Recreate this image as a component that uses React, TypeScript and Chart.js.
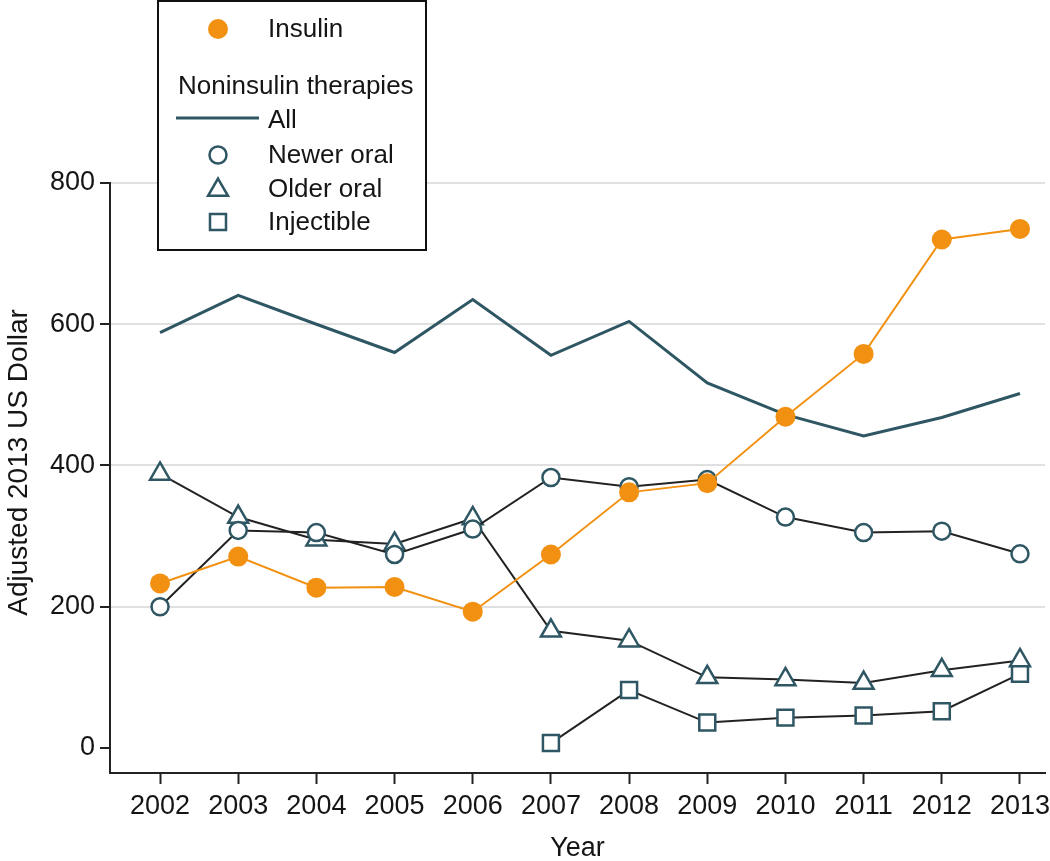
import React, { useEffect, useRef } from 'react';
import { Chart, registerables } from 'chart.js';

Chart.register(...registerables);

// ---- Data ----
const years = [2002, 2003, 2004, 2005, 2006, 2007, 2008, 2009, 2010, 2011, 2012, 2013];
const insulin = [233, 271, 227, 228, 193, 274, 362, 375, 469, 558, 720, 735];
const allNoninsulin = [588, 641, 600, 560, 635, 556, 604, 517, 472, 442, 468, 502];
const newerOral = [200, 308, 305, 274, 310, 383, 370, 380, 327, 305, 307, 275];
const olderOral = [388, 327, 295, 289, 325, 166, 152, 100, 97, 92, 110, 124];
const injectible: (number | null)[] = [null, null, null, null, null, 7, 82, 36, 43, 46, 52, 105];
const yTicks = [0, 200, 400, 600, 800];

const ORANGE = '#f29111';
const TEAL = '#2e5663';
const LINE_DARK = '#222222';
const TEXT = '#151515';
const FONT = 'Liberation Sans, Arial, sans-serif';

const toPoints = (vals: (number | null)[]) =>
  years
    .map((x, i) => ({ x, y: vals[i] }))
    .filter((p) => p.y !== null && p.y !== undefined);

function drawTriangle(ctx: CanvasRenderingContext2D, x: number, y: number, r: number) {
  const third = (2 * Math.PI) / 3;
  let rad = 0;
  ctx.beginPath();
  ctx.moveTo(x + Math.sin(rad) * r, y - Math.cos(rad) * r);
  rad += third;
  ctx.lineTo(x + Math.sin(rad) * r, y - Math.cos(rad) * r);
  rad += third;
  ctx.lineTo(x + Math.sin(rad) * r, y - Math.cos(rad) * r);
  ctx.closePath();
}

const legendPlugin = {
  id: 'customLegendBox',
  afterDraw(chart: any) {
    const ctx: CanvasRenderingContext2D = chart.ctx;
    ctx.save();
    // box
    ctx.fillStyle = '#ffffff';
    ctx.fillRect(158, 1, 268, 249);
    ctx.strokeStyle = '#111111';
    ctx.lineWidth = 2;
    ctx.strokeRect(158, 1, 268, 249);

    ctx.font = `26px ${FONT}`;
    ctx.fillStyle = TEXT;
    ctx.textBaseline = 'middle';
    ctx.textAlign = 'left';
    const mx = 218;
    const tx = 268;

    // Insulin
    ctx.beginPath();
    ctx.arc(mx, 29, 10, 0, Math.PI * 2);
    ctx.fillStyle = ORANGE;
    ctx.fill();
    ctx.fillStyle = TEXT;
    ctx.fillText('Insulin', tx, 30);

    // heading
    ctx.fillText('Noninsulin therapies', 178, 87);

    // All
    ctx.strokeStyle = TEAL;
    ctx.lineWidth = 3;
    ctx.beginPath();
    ctx.moveTo(176, 118);
    ctx.lineTo(259, 118);
    ctx.stroke();
    ctx.fillText('All', tx, 121);

    ctx.lineWidth = 2.5;
    ctx.strokeStyle = TEAL;
    ctx.fillStyle = '#ffffff';
    // Newer oral
    ctx.beginPath();
    ctx.arc(mx, 155, 8.5, 0, Math.PI * 2);
    ctx.fill();
    ctx.stroke();
    // Older oral
    drawTriangle(ctx, mx, 190, 11.5);
    ctx.fill();
    ctx.stroke();
    // Injectible
    const s = 8;
    ctx.beginPath();
    ctx.rect(mx - s, 222 - s, 2 * s, 2 * s);
    ctx.fill();
    ctx.stroke();

    ctx.fillStyle = TEXT;
    ctx.fillText('Newer oral', tx, 156);
    ctx.fillText('Older oral', tx, 190);
    ctx.fillText('Injectible', tx, 223);
    ctx.restore();
  },
};

export default function App() {
  const canvasRef = useRef<HTMLCanvasElement | null>(null);

  useEffect(() => {
    if (!canvasRef.current) return;
    const markerCommon = {
      borderColor: LINE_DARK,
      borderWidth: 2,
      pointBorderColor: TEAL,
      pointBackgroundColor: '#ffffff',
      pointBorderWidth: 2.5,
      tension: 0,
    };
    const zeroPadding = () => ({ left: 0, top: 0, right: 0, bottom: 0 });
    const chart = new Chart(canvasRef.current, {
      type: 'line',
      data: {
        datasets: [
          {
            label: 'Insulin',
            data: toPoints(insulin),
            borderColor: ORANGE,
            borderWidth: 2,
            pointRadius: 10,
            pointHoverRadius: 10,
            pointBackgroundColor: ORANGE,
            pointBorderColor: ORANGE,
            pointBorderWidth: 0,
            tension: 0,
          },
          {
            label: 'All',
            data: toPoints(allNoninsulin),
            borderColor: TEAL,
            borderWidth: 3,
            pointRadius: 0,
            pointHoverRadius: 0,
            tension: 0,
          },
          {
            label: 'Newer oral',
            data: toPoints(newerOral),
            ...markerCommon,
            pointStyle: 'circle',
            pointRadius: 8.5,
            pointHoverRadius: 8.5,
          },
          {
            label: 'Older oral',
            data: toPoints(olderOral),
            ...markerCommon,
            pointStyle: 'triangle',
            pointRadius: 11.5,
            pointHoverRadius: 11.5,
          },
          {
            label: 'Injectible',
            data: toPoints(injectible),
            ...markerCommon,
            pointStyle: 'rect',
            pointRadius: 11.3,
            pointHoverRadius: 11.3,
          },
        ] as any,
      },
      options: {
        animation: false,
        responsive: false,
        maintainAspectRatio: false,
        events: [],
        layout: { autoPadding: false, padding: { top: 183, right: 5, left: 0, bottom: 0 } },
        plugins: {
          legend: { display: false },
          tooltip: { enabled: false },
        },
        scales: {
          x: {
            type: 'linear',
            min: 2001.36,
            max: 2013.32,
            afterBuildTicks: (scale: any) => {
              scale.ticks = years.map((v) => ({ value: v }));
            },
            afterFit: (scale: any) => {
              scale.height = 88;
              scale.paddingLeft = 0;
              scale.paddingRight = 0;
              scale.getPadding = zeroPadding;
            },
            ticks: {
              autoSkip: false,
              maxRotation: 0,
              padding: 6,
              color: TEXT,
              font: { family: FONT, size: 27 },
              callback: (v: any) => String(v),
            },
            grid: {
              display: true,
              drawOnChartArea: false,
              drawTicks: true,
              tickLength: 11,
              tickColor: LINE_DARK,
              tickWidth: 2,
              color: LINE_DARK,
            },
            border: { display: true, color: LINE_DARK, width: 2 },
            title: {
              display: true,
              text: 'Year',
              color: TEXT,
              font: { family: FONT, size: 27 },
              padding: { top: 0, bottom: -4 },
            },
          },
          y: {
            type: 'linear',
            min: -35.4,
            max: 800,
            afterBuildTicks: (scale: any) => {
              scale.ticks = yTicks.map((v) => ({ value: v }));
            },
            afterFit: (scale: any) => {
              scale.width = 110;
            },
            ticks: {
              padding: 5,
              color: TEXT,
              font: { family: FONT, size: 27 },
              callback: (v: any) => String(v),
            },
            grid: {
              display: true,
              drawOnChartArea: true,
              drawTicks: true,
              tickLength: 10,
              tickWidth: 2,
              tickColor: LINE_DARK,
              lineWidth: 2,
              color: (c: any) => (c.tick && c.tick.value === 0 ? 'rgba(0,0,0,0)' : '#e0e0e0'),
            },
            border: { display: true, color: LINE_DARK, width: 2 },
            title: {
              display: true,
              text: '    Adjusted 2013 US Dollar',
              color: TEXT,
              font: { family: FONT, size: 28 },
              padding: { top: 2, bottom: 0 },
            },
          },
        },
      } as any,
      plugins: [legendPlugin],
    });
    return () => chart.destroy();
  }, []);

  return (
    <div style={{ position: 'fixed', left: 0, top: 0, width: 1050, height: 861, background: '#fff' }}>
      <canvas ref={canvasRef} width={1050} height={861} style={{ display: 'block', width: 1050, height: 861 }} />
    </div>
  );
}
